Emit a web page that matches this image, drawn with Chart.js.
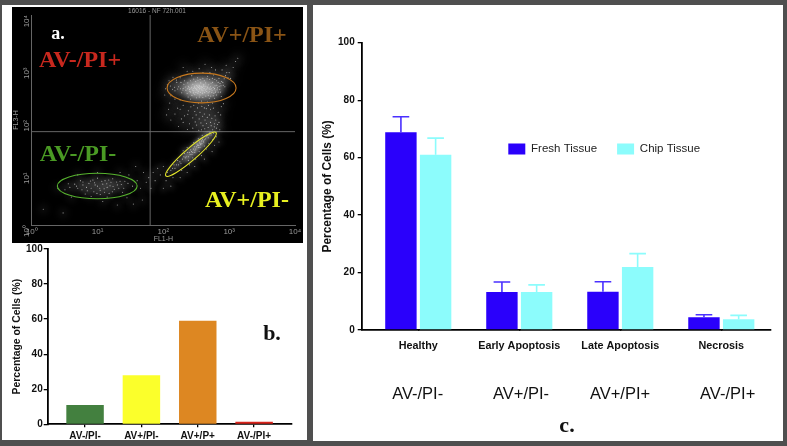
<!DOCTYPE html>
<html><head><meta charset="utf-8">
<script src="https://cdn.jsdelivr.net/npm/chart.js@4/dist/chart.umd.min.js"></script>
<style>
html,body{margin:0;padding:0;background:#4f4f4f;width:787px;height:446px;overflow:hidden}
#stage{position:relative;width:787px;height:446px;filter:blur(.35px);font-family:"Liberation Sans",Arial,sans-serif}
.panel{position:absolute;background:#fff}
canvas{position:absolute;display:block}
.t{position:absolute;transform:translate(-50%,-50%);white-space:nowrap;line-height:1}
.s{font-family:"Liberation Serif",serif;font-weight:bold}
.av{font-size:16.5px;color:#111}
</style></head><body>
<div id="stage">
<div class="panel" style="left:2px;top:5px;width:305px;height:435px"></div>
<div class="panel" style="left:313px;top:5px;width:470px;height:436px"></div>
<canvas id="ca" width="291" height="236" style="left:12px;top:7px;background:#000"></canvas>
<canvas id="cb" width="300" height="197" style="left:5px;top:243px"></canvas>
<canvas id="cc" width="469" height="436" style="left:313px;top:5px"></canvas>
<div class="t" style="left:157px;top:11px;font-size:6.5px;color:#9a9a9a">16016 - NF 72h.001</div>
<div class="t s" style="left:58px;top:33px;font-size:18px;color:#fff">a.</div>
<div class="t s" style="left:80px;top:59px;font-size:24px;color:#c8281e">AV-/PI+</div>
<div class="t s" style="left:242px;top:34px;font-size:24px;color:#8a5415">AV+/PI+</div>
<div class="t s" style="left:78px;top:153px;font-size:24px;color:#4a9a24">AV-/PI-</div>
<div class="t s" style="left:247px;top:199px;font-size:24px;color:#e8f020">AV+/PI-</div>
<div class="t s" style="left:272px;top:333px;font-size:22px;color:#111">b.</div>
<div class="t s" style="left:567px;top:425px;font-size:22px;color:#111">c.</div>
<div class="t av" style="left:417.7px;top:393px">AV-/PI-</div>
<div class="t av" style="left:521px;top:393px">AV+/PI-</div>
<div class="t av" style="left:620px;top:393px">AV+/PI+</div>
<div class="t av" style="left:727.7px;top:393px">AV-/PI+</div>
</div>
<script>
// ---- panel a: flow cytometry events (FL1-H, FL3-H), read by eye
const orangeCloud=[[373,407],[300,420],[450,390],[250,380],[520,430],[340,350],[410,470],[600,400],[200,400],[280,480],[480,330],[360,300],[230,320],[650,460],[170,430],[560,520],[310,540],[420,560],[190,330],[720,380],[260,250],[500,260],[380,230],[640,300],[150,360],[800,520],[700,620],[210,560],[330,640],[470,680],[580,720],[880,700],[960,640],[270,700],[160,520],[130,290],[180,240],[290,190],[420,170],[560,210],[760,280],[1000,800],[1150,1000],[620,900],[400,800],[230,850],[350,950],[140,650],[115,470],[105,300],[390,420],[320,390],[430,440],[350,460],[290,360],[470,410],[400,360],[330,430],[510,380],[270,420],[240,440],[550,360],[610,450],[370,510],[440,510],[300,310],[260,340],[220,370],[490,470],[530,500],[680,520],[750,450],[840,610],[920,800],[780,900],[510,800],[290,600],[180,640],[150,250],[125,210],[200,190],[340,210],[470,220],[600,260],[680,340],[860,430],[1050,620],[1250,1300],[900,1100],[540,1000],[280,850],[200,1000],[430,1150],[1350,1500],
[355,395],[385,375],[415,398],[345,415],[325,372],[305,398],[285,402],[262,395],[245,410],[435,372],[462,430],[495,405],[535,395],[572,418],[590,375],[405,445],[375,435],[352,438],[322,455],[298,445],[278,372],[252,352],[232,395],[215,425],[198,372],[182,395],[165,390],[148,420],[138,385],[128,445],[455,350],[425,335],[392,325],[365,338],[335,325],[312,335],[285,328],[505,345],[545,335],[585,325],[625,355],[665,410],[705,440],[765,540],[725,495],[645,560],[605,590],[555,620],[505,590],[462,610],[398,625],[362,590],[335,570],[258,560],[235,510],[205,480],[185,520],[158,575],[122,560],[108,395],[238,275],[272,295],[318,265],[352,275],[398,268],[442,285],[482,295],[525,285],[572,290],[615,335],[655,375],[735,340],[815,460]];
const tailCloud=[[180,160],[240,150],[300,145],[360,140],[420,130],[500,125],[210,120],[280,110],[350,105],[430,100],[520,90],[600,85],[250,85],[320,80],[400,78],[480,72],[560,65],[640,70],[700,90],[150,130],[130,100],[200,90],[610,120],[680,140],[330,170],[450,165],[280,70],[380,65],[520,160],[170,75],[760,180],[720,65],[120,160],[262,178],[385,182],[485,190],[575,168],[235,128],[315,125],[395,118],[465,112],[545,108],[625,100],[305,92],[372,88],[452,86],[532,78],[595,74],[425,68],[665,82],[345,64],[232,66],[188,105],[165,168],[112,125],[742,125],[818,205]];
const yellowCloud=[[115,10],[130,11],[150,12],[145,14],[170,14],[185,15],[165,17],[195,18],[215,19],[240,20],[210,23],[255,22],[280,24],[260,27],[310,28],[295,31],[340,30],[325,35],[370,34],[355,38],[410,38],[395,43],[440,44],[480,46],[460,52],[530,52],[510,58],[580,56],[240,17],[300,24],[360,30],[280,19],[350,25],[420,32],[200,26],[230,30],[290,37],[340,44],[390,51],[490,36],[560,42],[640,48],[700,38],[600,33],[450,28],[380,21],[310,18],[250,14],[190,11],[90,9],[75,7],[70,10],[110,7],[140,8],[180,8],[230,10],[300,13],[420,18],[550,25],[100,13],[82,12],[60,8],[65,5],[100,5],[130,5.5],[248,24],[268,25],[272,22],[288,28],[302,26],[318,31],[332,33],[345,33],[362,36],[378,40],[385,36],[402,40],[222,20],[232,24],[205,20],[178,16],[158,14],[138,12],[425,42],[448,48],[472,50],[495,52]];
const greenCloud=[[10,5.5],[8,5],[12,6],[14,5.2],[6,5.8],[16,6.5],[9,6.4],[11,4.6],[7,4.5],[18,4.8],[5,5],[13,7],[20,5.8],[4.5,6],[22,6.8],[8.5,7.2],[3.8,5.2],[6.5,3.9],[11,3.8],[15,4],[25,5],[29,6.2],[3.2,4.7],[10,7.8],[17,7.6],[5.5,7],[24,4.2],[14,3.4],[8,3.5],[34,5.5],[40,7],[45,5],[30,9],[22,10],[10,10],[5,9],[55,6.5],[50,10],[38,13],[28,3.3],[12,2.8],[4,3.4],[2.5,5],[1.5,2],[3,1.7],[20,2.4],[35,2.5],[48,3],[9.2,5.8],[10.8,5],[7.4,6.2],[6.8,5.2],[12.6,4.9],[13.8,6.1],[15.5,5.6],[17.2,5.4],[5.8,4.7],[4.8,5.5],[8.8,4.3],[19.5,6.6],[21,5],[23,5.9],[3.6,6.1],[7.8,6.9],[11.6,6.8],[14.8,7.2],[26,6.8],[9.8,4],[12.8,4.2],[16.8,4.3],[6,6.6]];
const quadrantX=[63,63], quadrantXRange=[1,10000];
const quadrantY=[60,60], quadrantYRange=[1,10000];
const coreOrange=[[260,400],[320,410],[380,405],[440,395]];
const coreYellow=[[230,19],[290,27],[350,35]];
const coreGreen=[[7,5.5],[11,5.6],[15,5.4]];
const logTicks=[1,10,100,1000,10000];
const logTickLabels=['10⁰','10¹','10²','10³','10⁴'];
const gates=[
 {a:[114,407],b:[1273,407],ratio:.43,color:'#c8791e'},
 {a:[109,8.6],b:[632,58],ratio:.18,color:'#e4e62a'},
 {a:[2.45,5.53],b:[40,5.53],ratio:.32,color:'#57b32e'}];
// ---- panel b
const singleCategories=['AV-/PI-','AV+/PI-','AV+/P+','AV-/PI+'];
const singleValues=[11,28,59,1.5];
const singleColors=['#43803f','#fbff2b','#dd8722','#d8241c'];
// ---- panel c
const tissueCategories=['Healthy','Early Apoptosis','Late Apoptosis','Necrosis'];
const freshValues=[68.8,13.2,13.3,4.4];
const chipValues=[61,13.2,21.9,3.7];
const freshErrors=[5.4,3.5,3.5,0.9];
const chipErrors=[5.8,2.5,4.7,1.4];

const SANS='"Liberation Sans",Arial,sans-serif';
Chart.defaults.animation=false;
Chart.defaults.responsive=false;
Chart.defaults.devicePixelRatio=1;
Chart.defaults.font.family=SANS;

const fixBox=(w,h)=>s=>{ if(w!=null)s.width=w; if(h!=null)s.height=h; s.paddingLeft=s.paddingRight=s.paddingTop=s.paddingBottom=0; };

const gatePlugin={id:'gates',
 beforeDatasetDraw(ch,args){const d=ch.data.datasets[args.index];if(d.haze){ch.ctx.save();ch.ctx.filter=`blur(${d.haze}px)`;}},
 afterDatasetDraw(ch,args){const d=ch.data.datasets[args.index];if(d.haze){ch.ctx.restore();}},
 afterDatasetsDraw(ch){
 const {ctx,scales:{x,y}}=ch;
 gates.forEach(g=>{
  const ax=x.getPixelForValue(g.a[0]),ay=y.getPixelForValue(g.a[1]);
  const bx=x.getPixelForValue(g.b[0]),by=y.getPixelForValue(g.b[1]);
  const r=Math.hypot(bx-ax,by-ay)/2;
  ctx.save();ctx.strokeStyle=g.color;ctx.lineWidth=1.1;ctx.beginPath();
  ctx.ellipse((ax+bx)/2,(ay+by)/2,r,r*g.ratio,Math.atan2(by-ay,bx-ax),0,Math.PI*2);ctx.stroke();ctx.restore();
 });
}};
const pts=a=>a.map(p=>({x:p[0],y:p[1]}));
const dots=a=>({data:pts(a),pointRadius:.55,pointBackgroundColor:'rgba(255,255,255,.6)',pointBorderWidth:0,showLine:false});
const glow=(a,r,al,b)=>({data:pts(a),haze:b,pointRadius:r,pointBackgroundColor:`rgba(255,255,255,${al})`,pointBorderWidth:0,showLine:false});
const rule=(xs,ys)=>({data:xs.map((v,i)=>({x:v,y:ys[i]})),showLine:true,borderColor:'#666',borderWidth:1,pointRadius:0});
const logAxis=(extra)=>Object.assign({type:'logarithmic',min:1,max:10000,
 afterBuildTicks:s=>{s.ticks=logTicks.map(v=>({value:v,major:true}));},
 grid:{display:false,drawTicks:false},border:{color:'#666',width:1}},extra);

new Chart(document.getElementById('ca'),{type:'scatter',plugins:[gatePlugin],data:{datasets:[
 glow(orangeCloud,6,.05,4),glow(tailCloud,6,.05,4),glow(yellowCloud,4,.07,2.5),glow(greenCloud,5,.05,3),
 glow(coreOrange,9,.22,5),glow(coreYellow,4,.22,2.5),glow(coreGreen,6,.07,4),
 dots(tailCloud),dots(orangeCloud),dots(yellowCloud),dots(greenCloud),
 rule(quadrantX,quadrantXRange),rule(quadrantYRange,quadrantY)
]},options:{layout:{autoPadding:false,padding:{left:0,right:8,top:8,bottom:0}},plugins:{legend:{display:false},tooltip:{enabled:false}},
 scales:{
  x:logAxis({position:'bottom',afterFit:fixBox(null,18),
   title:{display:true,text:'FL1-H',color:'#9a9a9a',font:{size:7},padding:{top:0,bottom:0}},
   ticks:{autoSkip:false,maxRotation:0,minRotation:0,color:'#9a9a9a',font:{size:8},padding:2,callback:(v)=>logTickLabels[logTicks.indexOf(v)]}}),
  y:logAxis({position:'left',afterFit:fixBox(19.7,null),
   title:{display:true,text:'FL3-H',color:'#9a9a9a',font:{size:7},padding:{top:0,bottom:0}},
   ticks:{autoSkip:false,minRotation:90,maxRotation:90,color:'#9a9a9a',font:{size:8},padding:5,callback:(v)=>logTickLabels[logTicks.indexOf(v)]}})
 }}});

const linX=(min,max,labels,w,tick,pad,h)=>({type:'linear',min,max,bounds:'data',offset:false,afterFit:fixBox(null,h),
 afterBuildTicks:s=>{s.ticks=labels.map((_,i)=>({value:i}));},
 grid:{offset:false,display:true,drawOnChartArea:false,drawTicks:true,tickLength:tick,color:'#000',lineWidth:1.3},
 border:{color:'#000',width:1.8},
 ticks:{stepSize:1,autoSkip:false,maxRotation:0,minRotation:0,color:'#111',padding:pad,font:{size:w,weight:'bold'},callback:v=>labels[v]}});
const linY=(w,tf,fs,tp,pd)=>({type:'linear',min:0,max:100,afterFit:fixBox(w,null),
 grid:{display:true,drawOnChartArea:false,drawTicks:true,tickLength:4,color:'#000',lineWidth:1.3},
 border:{color:'#000',width:1.8},
 title:{display:true,text:'Percentage of Cells (%)',color:'#111',font:{size:tf,weight:'bold'},padding:{top:tp,bottom:0}},
 ticks:{stepSize:20,color:'#111',padding:pd,font:{size:fs,weight:'bold'}}});

new Chart(document.getElementById('cb'),{type:'bar',data:{labels:singleCategories.map((_,i)=>i),datasets:[
 {data:singleValues,backgroundColor:singleColors,categoryPercentage:.665,barPercentage:1}]},
 options:{layout:{autoPadding:false,padding:{left:0,right:13.3,top:6,bottom:0}},plugins:{legend:{display:false},tooltip:{enabled:false}},
 scales:{x:linX(-.663,3.667,singleCategories,10,3,3,15.7),y:linY(42.7,10.4,10,6,1)}}});

const errorPlugin={id:'errs',afterDatasetsDraw(ch){
 const {ctx,scales:{y}}=ch;
 ch.data.datasets.forEach((d,i)=>{
  const meta=ch.getDatasetMeta(i);
  meta.data.forEach((bar,j)=>{
   const top=y.getPixelForValue(d.data[j]),up=y.getPixelForValue(d.data[j]+d.errors[j]);
   const half=bar.width*.265;
   ctx.save();ctx.strokeStyle=d.errorColor;ctx.lineWidth=1.6;ctx.beginPath();
   ctx.moveTo(bar.x,top);ctx.lineTo(bar.x,up);ctx.moveTo(bar.x-half,up);ctx.lineTo(bar.x+half,up);ctx.stroke();ctx.restore();
  });
 });
}};
const legendPlace={id:'legendPlace',beforeDraw(ch){
 const l=ch.legend;
 l.left=175.3;l.right=175.3+290;l.top=118.3;l.bottom=118.3+50;
}};
new Chart(document.getElementById('cc'),{type:'bar',plugins:[errorPlugin,legendPlace],data:{labels:tissueCategories.map((_,i)=>i),datasets:[
 {label:'Fresh Tissue',data:freshValues,errors:freshErrors,errorColor:'#4a30ff',backgroundColor:'#2a00fb',categoryPercentage:.687,barPercentage:.905},
 {label:'Chip Tissue',data:chipValues,errors:chipErrors,errorColor:'#8cfcfc',backgroundColor:'#8cfcfc',categoryPercentage:.687,barPercentage:.905}]},
 options:{layout:{autoPadding:false,padding:{left:0,right:11.3,top:36.7,bottom:0}},
 plugins:{tooltip:{enabled:false},legend:{position:'top',align:'start',maxHeight:1,labels:{boxWidth:17,boxHeight:11,padding:20,color:'#222',font:{size:11.5}}}},
 scales:{x:linX(-.56,3.489,tissueCategories,10.8,0,10,111),y:linY(48.7,11.9,10,8,3)}}});
</script></body></html>
